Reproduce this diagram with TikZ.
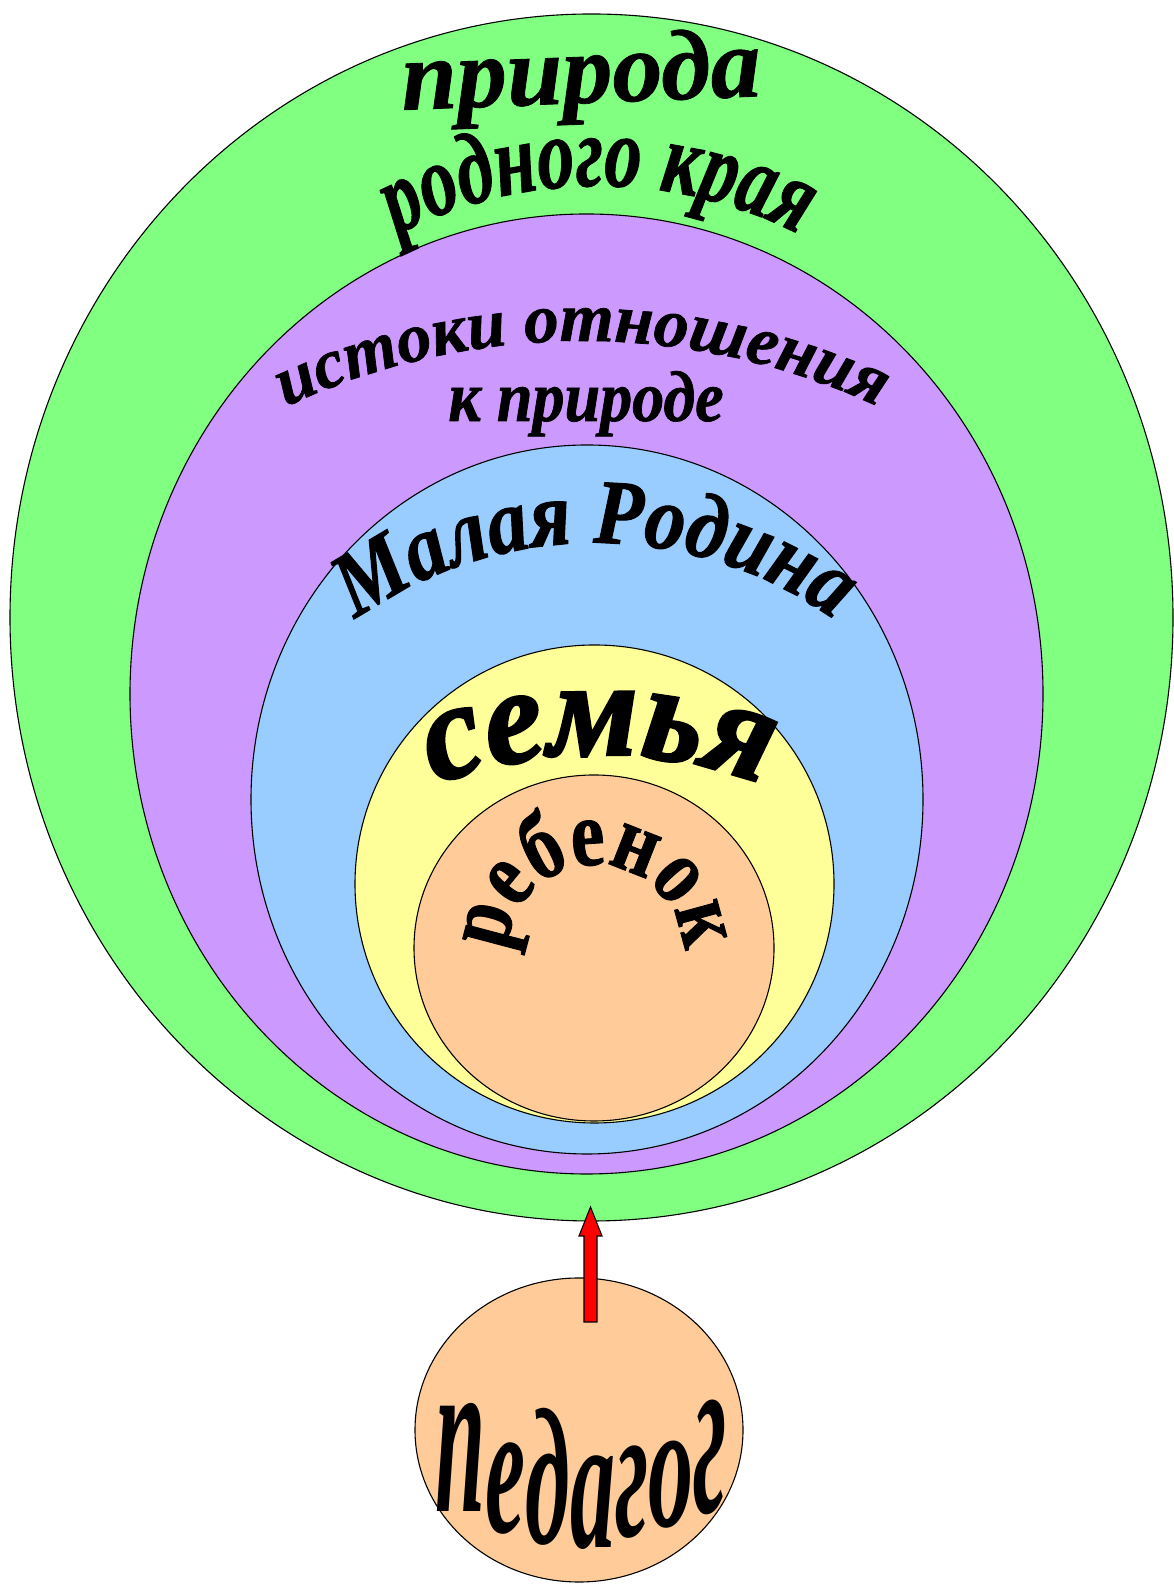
\documentclass[tikz,border=0pt]{standalone}
\usepackage{fontspec}
\usepackage{graphicx}
\usetikzlibrary{shapes.geometric,decorations.text,calc}
\definecolor{cgreen}{HTML}{80FF80}
\definecolor{cpurple}{HTML}{CC99FF}
\definecolor{cblue}{HTML}{99CCFF}
\definecolor{cyellow}{HTML}{FFFF99}
\definecolor{corange}{HTML}{FFCC99}
\newfontfamily\serA{Liberation Serif}[FakeBold=0.8]
\newfontfamily\serB{Liberation Serif}[FakeStretch=0.72,FakeBold=1]
\newfontfamily\serC{Liberation Serif}[FakeStretch=0.8,FakeBold=1]
\newfontfamily\serD{Liberation Serif}[FakeStretch=0.6]
\newfontfamily\serE{Liberation Serif}[FakeStretch=0.99,FakeBold=1]
\newfontfamily\serF{Liberation Serif}[FakeStretch=0.89,FakeBold=1]
\newfontfamily\serG{Liberation Serif}[FakeStretch=0.87,FakeBold=1.2]
\newfontfamily\serH{Liberation Serif}[FakeStretch=0.96,FakeBold=2]
\newcommand\fPriroda{\serA\bfseries\itshape\fontsize{100pt}{100pt}\selectfont}
\newcommand\fRodnogo{\serB\bfseries\itshape\fontsize{102pt}{102pt}\selectfont}
\newcommand\fIstoki{\serE\bfseries\itshape\fontsize{70pt}{70pt}\selectfont}
\newcommand\fKpri{\serF\bfseries\itshape\fontsize{72pt}{72pt}\selectfont}
\newcommand\fMalaya{\serG\bfseries\itshape\fontsize{92pt}{92pt}\selectfont}
\newcommand\fSemya{\serH\bfseries\itshape\fontsize{137pt}{137pt}\selectfont}
\newcommand\fRebenok{\serC\bfseries\fontsize{95pt}{95pt}\selectfont}
\newcommand\fPedagog{\serD\bfseries\itshape\fontsize{150pt}{150pt}\selectfont}
\newcommand\pedl[3]{\raisebox{#1pt}{\scalebox{1}[#2]{#3}}}
\begin{document}
\begin{tikzpicture}[x=1pt,y=1pt,
  ring/.style={ellipse, draw=black, line width=1.1pt, inner sep=0pt, outer sep=0pt}]
\path[use as bounding box, fill=white] (0,0) rectangle (1173,1584);
% nested rings
\node[ring, fill=cgreen, minimum width=1163pt, minimum height=1207pt] (nature) at (591.5,966.5) {};
\node[ring, fill=cpurple, minimum width=913pt, minimum height=960pt] (roots) at (586.5,890) {};
\node[ring, fill=cblue, minimum width=672pt, minimum height=709pt] (homeland) at (587,784.5) {};
\node[ring, fill=cyellow, minimum width=479pt, minimum height=478pt] (family) at (594.5,700) {};
\node[ring, fill=corange, minimum width=360pt, minimum height=346pt] (child) at (594,636) {};
\node[ring, fill=corange, minimum width=328pt, minimum height=304pt] (teacher) at (579,154) {};
% arrow from teacher to outer ring
\coordinate (afoot) at ($(teacher.north)+(11.5,-44)$);
\coordinate (atip) at ($(nature.south)+(-1,14)$);
\draw[fill=red, line width=1.1pt, line join=miter]
  ($(afoot)+(-6.5,0)$) -- ($(afoot)+(6.5,0)$) -- ($(atip)+(6.5,-29)$) -- ($(atip)+(11.5,-29)$)
  -- (atip) -- ($(atip)+(-11.5,-29)$) -- ($(atip)+(-6.5,-29)$) -- cycle;
% texts
\node[rotate=2.2, anchor=base, inner sep=0pt] (t1) at (582,1481) {\fPriroda природа};
\coordinate (c2) at (598,958);
\path[decorate, decoration={text along path, text align=center, text={|\fRodnogo|родного края}}]
  ($(c2)+(135:440pt)$) arc[start angle=135, end angle=45, radius=440pt];
\coordinate (c3) at (582,543);
\path[decorate, decoration={text along path, text align=center, text={|\fIstoki|истоки отношения}}]
  ($(c3)+(125:700pt)$) arc[start angle=125, end angle=55, radius=700pt];
\node[anchor=base, inner sep=0pt] (t4) at (586,1163) {\fKpri к природе};
\coordinate (c5) at (595,630);
\path[decorate, decoration={text along path, text align=center, text={|\fMalaya|Малая Родина}}]
  ($(c5)+(145:411pt)$) arc[start angle=145, end angle=35, radius=411pt];
\coordinate (c6) at (599,359);
\path[decorate, decoration={text along path, text align=center, text={|\fSemya|семья}}]
  ($(c6)+(125:470pt)$) arc[start angle=125, end angle=55, radius=470pt];
\coordinate (c7) at (595,631);
\path[decorate, decoration={text along path, text align=center, text={|\fRebenok|ребенок}}]
  ($(c7)+(190:88pt)$) arc[start angle=190, end angle=-10, radius=88pt];
\node[anchor=base, inner sep=0pt, text depth=0pt] (t8) at (581,36) {\fPedagog\pedl{36}{1.53}{п}\pedl{15}{1.27}{е}\pedl{5}{1.3}{д}\pedl{0}{1.3}{а}\pedl{11}{1.29}{г}\pedl{21}{1.21}{о}\pedl{35}{1.6}{г}};
\end{tikzpicture}
\end{document}
